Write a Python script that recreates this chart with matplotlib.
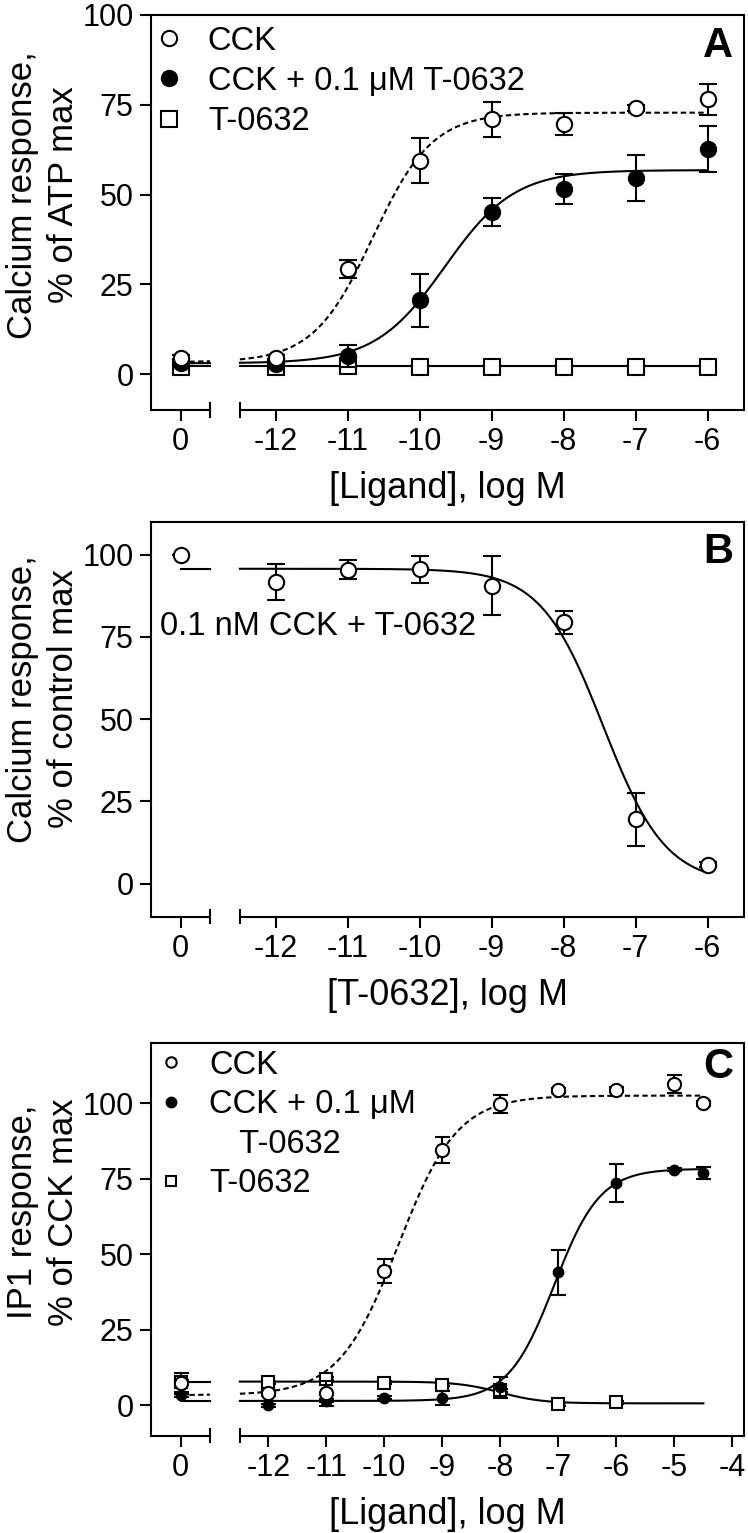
import numpy as np
import matplotlib
matplotlib.use("Agg")
import matplotlib.pyplot as plt
from matplotlib.lines import Line2D

plt.rcParams['font.family'] = ['Liberation Sans', 'DejaVu Sans']

# ---------------- data ----------------
# log concentrations; np.nan marks the "0" (no ligand) control point
a_logc = [np.nan, -12, -11, -10, -9, -8, -7, -6]
a_cck = [4.5, 4.5, 29.3, 59.4, 70.9, 69.6, 74.2, 76.5]
a_cck_err = [0.8, 0.8, 2.5, 6.3, 4.8, 3.0, 0.8, 4.3]
a_cckt = [3.0, 2.9, 5.1, 20.5, 45.1, 51.6, 54.6, 62.7]
a_cckt_err = [0.5, 0.5, 3.1, 7.3, 3.9, 4.2, 6.4, 6.3]
a_t = [1.9, 1.9, 2.3, 2.1, 2.0, 2.0, 2.0, 2.0]
a_t_err = [0.3, 0.3, 0.3, 0.3, 0.3, 0.3, 0.3, 0.3]
# fitted 4PL parameters: bottom, top, logEC50, hill
a_fit_cck = [3.3, 72.8, -10.65, 1.05]
a_fit_cckt = [3.0, 56.8, -9.65, 0.9]
a_fit_t = [2.2, 2.2, -9.0, 1.0]

b_logc = [np.nan, -12, -11, -10, -9, -8, -7, -6]
b_resp = [100.0, 91.6, 95.4, 95.6, 90.6, 79.4, 19.6, 5.8]
b_err = [0.0, 5.4, 2.9, 4.1, 9.0, 3.5, 8.0, 0.8]
b_fit = [0.0, 95.7, -7.45, -1.0]

c_logc = [np.nan, -12, -11, -10, -9, -8, -7, -6, -5, -4.5]
c_cck = [7.5, 4.2, 4.0, 44.6, 84.6, 99.6, 104.2, 104.4, 106.3, 100.0]
c_cck_err = [3.1, 1.0, 4.2, 4.0, 4.3, 3.0, 0.8, 0.8, 3.1, 0.8]
c_cckt = [3.4, 0.0, 1.5, 2.5, 2.5, 6.0, 44.0, 73.6, 77.9, 76.9]
c_cckt_err = [0.5, 0.5, 0.5, 0.5, 2.2, 3.4, 7.5, 6.4, 0.5, 2.0]
c_t_logc = [np.nan, -12, -11, -10, -9, -8, -7, -6]
c_t = [7.8, 7.7, 8.8, 7.5, 6.8, 5.0, 0.4, 1.1]
c_t_err = [0.5, 0.5, 0.5, 0.5, 0.5, 0.5, 0.5, 0.5]
c_fit_cck = [3.4, 102.5, -9.76, 0.85]
c_fit_cckt = [1.5, 78.3, -7.07, 1.1]
c_fit_t = [0.7, 7.9, -8.0, -1.2]

ab_ticks = ['0', '-12', '-11', '-10', '-9', '-8', '-7', '-6']
c_ticks = ['0', '-12', '-11', '-10', '-9', '-8', '-7', '-6', '-5', '-4']


def four_pl(x, p):
    bottom, top, ec50, hill = p
    return bottom + (top - bottom) / (1.0 + 10.0 ** ((ec50 - x) * hill))


fig = plt.figure(figsize=(7.48, 15.33), dpi=100)
W, H = 748.0, 1533.0
LEFT, RIGHT = 151.0, 744.0


def make_ax(top_px, bot_px):
    return fig.add_axes([LEFT / W, 1 - bot_px / H, (RIGHT - LEFT) / W, (bot_px - top_px) / H])


axA = make_ax(15.0, 410.0)
axB = make_ax(521.7, 916.7)
axC = make_ax(1042.7, 1435.7)

LW = 1.5
LEG_FS = 23.5


def style_axis(ax, xlim, ylim, zero_pos, brk, xticks_log, xlabels, ylabel, xlabel, letter, letter_y, ylab_y):
    ax.set_xlim(*xlim)
    ax.set_ylim(*ylim)
    for s in ax.spines.values():
        s.set_linewidth(LW)
    ax.spines['bottom'].set_visible(False)
    tr = ax.get_xaxis_transform()
    ax.plot([xlim[0], brk[0]], [0, 0], transform=tr, color='k', lw=LW, clip_on=False, solid_capstyle='butt')
    ax.plot([brk[1], xlim[1]], [0, 0], transform=tr, color='k', lw=LW, clip_on=False, solid_capstyle='butt')
    for b in brk:
        ax.plot([b, b], [-0.017, 0.017], transform=tr, color='k', lw=LW, clip_on=False)
    ax.set_xticks([zero_pos] + list(xticks_log))
    ax.set_xticklabels(xlabels)
    ax.set_yticks([0, 25, 50, 75, 100])
    ax.tick_params(axis='both', direction='out', length=8, width=LW, labelsize=22, pad=4.5)
    ax.tick_params(axis='x', top=False, bottom=True)
    ax.tick_params(axis='y', right=False)
    ax.set_ylabel(ylabel, fontsize=25, linespacing=1.32)
    ax.yaxis.set_label_coords(-0.12, ylab_y)
    ax.set_xlabel(xlabel, fontsize=26)
    ax.xaxis.set_label_coords(0.5, -0.155)
    ax.text(0.982, letter_y, letter, transform=ax.transAxes, ha='right', va='baseline',
            fontsize=30, fontweight='bold')


def xpos(logc, zero_pos):
    a = np.array(logc, dtype=float)
    return np.where(np.isnan(a), zero_pos, a)


def draw_curve(ax, p, zero_pos, brk, xend, ls):
    x1 = np.linspace(zero_pos, brk[0], 30)
    x2 = np.linspace(brk[1], xend, 300)
    for xx in (x1, x2):
        ax.plot(xx, four_pl(xx, p), color='k', lw=LW, ls=ls, zorder=2)


DASH = (0, (2.6, 1.6))

# ---------------- Panel A ----------------
A_ZERO, A_BRK, A_XLIM = -13.32, (-12.912, -12.496), (-13.73, -5.496)
style_axis(axA, A_XLIM, (-10, 100), A_ZERO, A_BRK, [-12, -11, -10, -9, -8, -7, -6], ab_ticks,
           'Calcium response,\n% of ATP max', '[Ligand], log M', 'A', 0.894, 0.545)
draw_curve(axA, a_fit_t, A_ZERO, A_BRK, -6, '-')
draw_curve(axA, a_fit_cckt, A_ZERO, A_BRK, -6, '-')
draw_curve(axA, a_fit_cck, A_ZERO, A_BRK, -6, DASH)
ekw = dict(ecolor='k', elinewidth=LW, capthick=LW, capsize=6.3, ls='none', mec='k', mew=1.5)
axA.errorbar(xpos(a_logc, A_ZERO), a_t, yerr=a_t_err, fmt='s', ms=11, mfc='white', zorder=3, **ekw)
axA.errorbar(xpos(a_logc, A_ZERO), a_cckt, yerr=a_cckt_err, fmt='o', ms=11, mfc='black', zorder=4, **ekw)
axA.errorbar(xpos(a_logc, A_ZERO), a_cck, yerr=a_cck_err, fmt='o', ms=11, mfc='white', zorder=5, **ekw)
hA = [Line2D([], [], ls='none', marker='o', ms=11, mfc='white', mec='k', mew=1.5),
      Line2D([], [], ls='none', marker='o', ms=11, mfc='black', mec='k', mew=1.5),
      Line2D([], [], ls='none', marker='s', ms=11, mfc='white', mec='k', mew=1.5)]
axA.legend(hA, ['CCK', 'CCK + 0.1 \u03bcM T-0632', 'T-0632'], loc='upper left', frameon=False,
           fontsize=LEG_FS, handlelength=0.44, handletextpad=0.97, borderaxespad=0.1, borderpad=0.23,
           labelspacing=0.28)

# ---------------- Panel B ----------------
style_axis(axB, A_XLIM, (-10, 110), A_ZERO, A_BRK, [-12, -11, -10, -9, -8, -7, -6], ab_ticks,
           'Calcium response,\n% of control max', '[T-0632], log M', 'B', 0.8947, 0.552)
draw_curve(axB, b_fit, A_ZERO, A_BRK, -6, '-')
axB.errorbar(xpos(b_logc, A_ZERO), b_resp, yerr=b_err, fmt='o', ms=11, mfc='white', zorder=5, **ekw)
axB.text(0.015, 0.713, '0.1 nM CCK + T-0632', transform=axB.transAxes, fontsize=LEG_FS,
         ha='left', va='baseline')

# ---------------- Panel C ----------------
C_ZERO, C_BRK, C_XLIM = -13.51, (-13.005, -12.488), (-14.02, -3.80)
style_axis(axC, C_XLIM, (-10, 120), C_ZERO, C_BRK, [-12, -11, -10, -9, -8, -7, -6, -5, -4], c_ticks,
           'IP1 response,\n% of CCK max', '[Ligand], log M', 'C', 0.91, 0.569)
draw_curve(axC, c_fit_t, C_ZERO, C_BRK, -4.5, '-')
draw_curve(axC, c_fit_cckt, C_ZERO, C_BRK, -4.5, '-')
draw_curve(axC, c_fit_cck, C_ZERO, C_BRK, -4.5, DASH)
ekwc = dict(ekw)
ekwc['capsize'] = 5.4
axC.errorbar(xpos(c_t_logc, C_ZERO), c_t, yerr=c_t_err, fmt='s', ms=9, mfc='white', zorder=3, **ekwc)
axC.errorbar(xpos(c_logc, C_ZERO), c_cckt, yerr=c_cckt_err, fmt='o', ms=7, mfc='black', zorder=4, **ekwc)
axC.errorbar(xpos(c_logc, C_ZERO), c_cck, yerr=c_cck_err, fmt='o', ms=9.5, mfc='white', zorder=5, **ekwc)
hC = [Line2D([], [], ls='none', marker='o', ms=7.5, mfc='white', mec='k', mew=1.5),
      Line2D([], [], ls='none', marker='o', ms=7, mfc='black', mec='k', mew=1.5),
      Line2D([], [], ls='none', marker=None),
      Line2D([], [], ls='none', marker='s', ms=7, mfc='white', mec='k', mew=1.5)]
axC.legend(hC, ['CCK', 'CCK + 0.1 \u03bcM', '   \u200aT-0632', 'T-0632'], loc='upper left', frameon=False,
           fontsize=LEG_FS, handlelength=0.79, handletextpad=0.78, borderaxespad=0.05, borderpad=0.17,
           labelspacing=0.26)

fig.savefig('out.png', dpi=100)
